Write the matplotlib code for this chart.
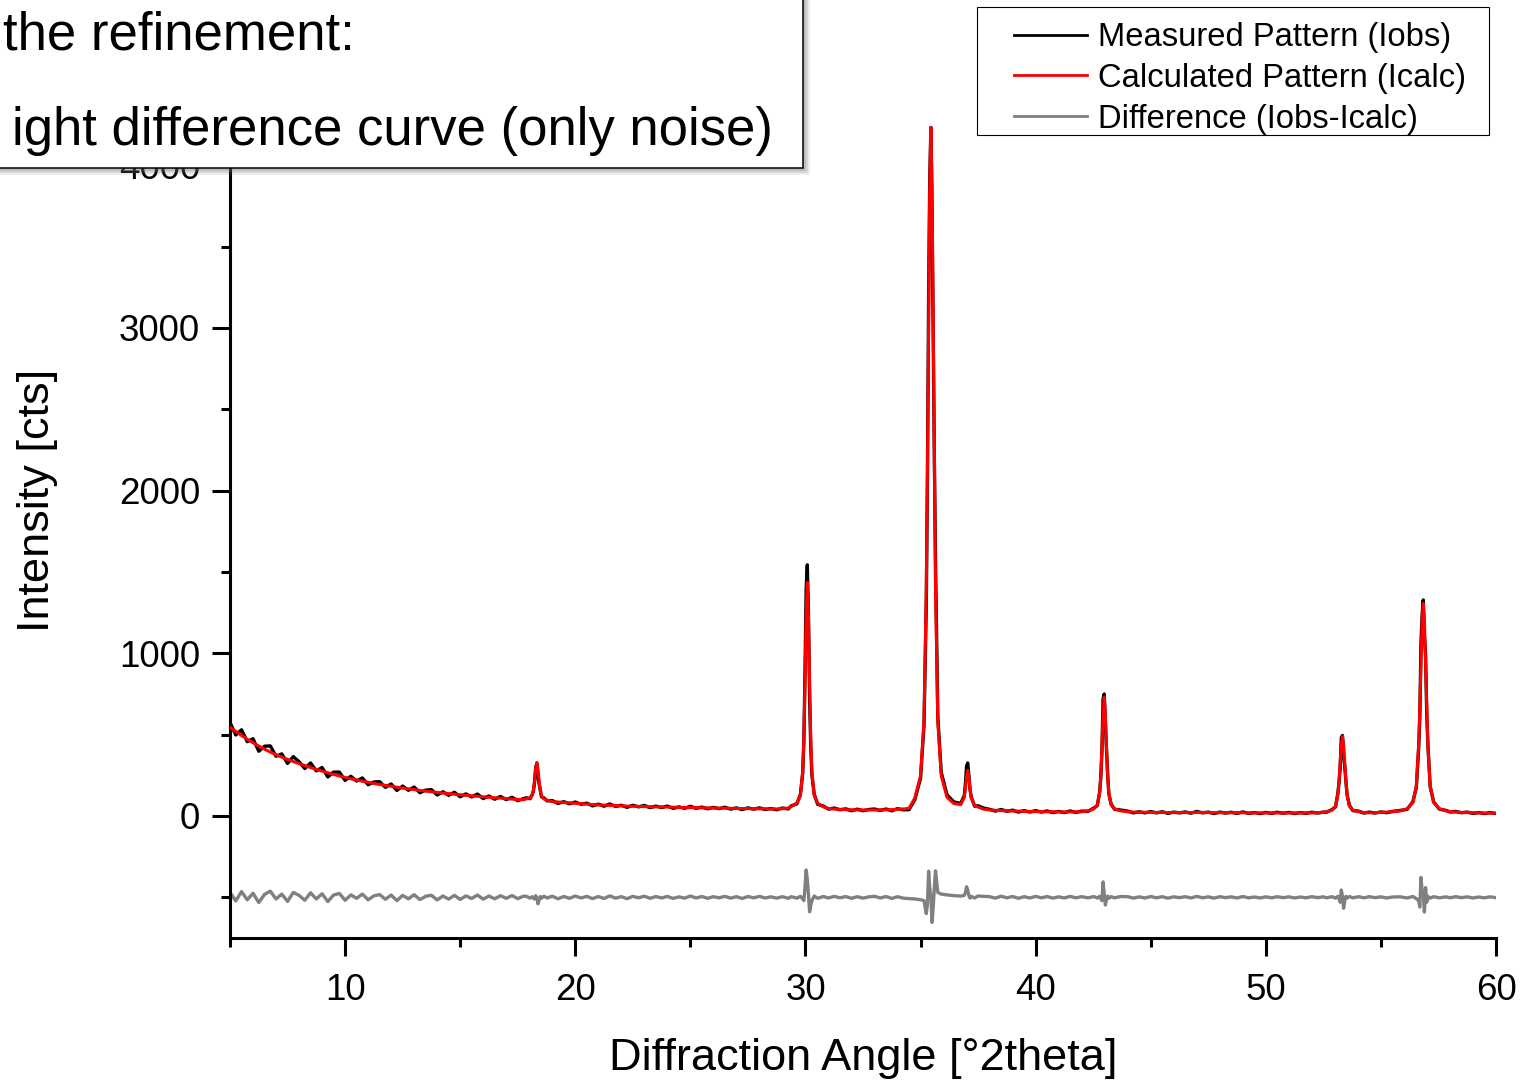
import numpy as np
import matplotlib
matplotlib.use('Agg')
import matplotlib.pyplot as plt
from matplotlib.patches import Rectangle
from matplotlib.lines import Line2D
from matplotlib.ticker import MultipleLocator

plt.rcParams['font.family'] = ['Liberation Sans', 'DejaVu Sans']

# diffraction angle [deg 2theta] (denser around the peaks)
two_theta = [
    5.00, 5.25, 5.50, 5.75, 6.00, 6.25, 6.50, 6.75, 7.00, 7.25,
    7.50, 7.75, 8.00, 8.25, 8.50, 8.75, 9.00, 9.25, 9.50, 9.75,
    10.00, 10.25, 10.50, 10.75, 11.00, 11.25, 11.50, 11.75, 12.00, 12.25,
    12.50, 12.75, 13.00, 13.25, 13.50, 13.75, 14.00, 14.25, 14.50, 14.75,
    15.00, 15.25, 15.50, 15.75, 16.00, 16.25, 16.50, 16.75, 17.00, 17.25,
    17.50, 17.75,
    17.88, 18.03, 18.13, 18.18, 18.23, 18.28, 18.33, 18.38, 18.43, 18.48, 18.53, 18.63, 18.78,
    19.00, 19.25, 19.50, 19.75, 20.00, 20.25, 20.50, 20.75, 21.00, 21.25,
    21.50, 21.75, 22.00, 22.25, 22.50, 22.75, 23.00, 23.25, 23.50, 23.75,
    24.00, 24.25, 24.50, 24.75, 25.00, 25.25, 25.50, 25.75, 26.00, 26.25,
    26.50, 26.75, 27.00, 27.25, 27.50, 27.75, 28.00, 28.25, 28.50, 28.75,
    29.00, 29.25,
    29.38, 29.63, 29.78, 29.88, 29.93, 29.98, 30.03, 30.08, 30.13, 30.18, 30.23, 30.28, 30.38, 30.53, 30.78,
    31.00, 31.25, 31.50, 31.75, 32.00, 32.25, 32.50, 32.75, 33.00, 33.25, 33.50, 33.75, 34.00, 34.25, 34.50,
    34.75, 35.00, 35.15, 35.25, 35.30, 35.35, 35.40, 35.45, 35.50, 35.55, 35.60, 35.65, 35.75, 35.90,
    36.15, 36.45, 36.75, 36.90, 36.95, 37.00, 37.05, 37.10, 37.15, 37.20, 37.35, 37.50,
    37.75, 38.00, 38.25, 38.50, 38.75, 39.00, 39.25, 39.50, 39.75, 40.00, 40.25, 40.50, 40.75, 41.00,
    41.25, 41.50, 41.75, 42.00,
    42.28, 42.53, 42.68, 42.78, 42.83, 42.88, 42.93, 42.98, 43.03, 43.08, 43.13, 43.18, 43.28, 43.43, 43.68,
    44.00, 44.25, 44.50, 44.75, 45.00, 45.25, 45.50, 45.75, 46.00, 46.25,
    46.50, 46.75, 47.00, 47.25, 47.50, 47.75, 48.00, 48.25, 48.50, 48.75,
    49.00, 49.25, 49.50, 49.75, 50.00, 50.25, 50.50, 50.75, 51.00, 51.25,
    51.50, 51.75, 52.00, 52.25, 52.50,
    52.63, 52.88, 53.03, 53.13, 53.18, 53.23, 53.28, 53.33, 53.38, 53.43, 53.48, 53.53, 53.63, 53.78, 54.03,
    54.25, 54.50, 54.75, 55.00, 55.25, 55.50,
    55.84, 56.14, 56.39, 56.54, 56.64, 56.69, 56.74, 56.79, 56.84, 56.89, 56.94, 56.99, 57.04, 57.14,
    57.29, 57.54, 57.84,
    58.00, 58.25, 58.50, 58.75, 59.00, 59.25, 59.50, 59.75, 60.00,
]

# calculated pattern (Icalc) [cts]
i_calc = [
    545, 520, 495, 472, 450, 430, 411, 393, 377, 362,
    348, 335, 322, 310, 298, 287, 276, 266, 256, 246,
    237, 229, 221, 214, 207, 200, 194, 188, 183, 177,
    172, 167, 162, 157, 153, 149, 145, 141, 138, 134,
    131, 127, 124, 121, 118, 115, 112, 110, 107, 104,
    102, 100,
    106, 111, 128, 158, 214, 288, 329, 287, 212, 155, 124, 105, 97,
    88, 86, 83, 81, 78, 76, 73, 70, 68, 67,
    65, 64, 62, 61, 60, 59, 58, 57, 56, 56,
    55, 54, 53, 52, 52, 51, 50, 50, 49, 48,
    48, 47, 46, 46, 45, 45, 44, 44, 43, 43,
    45, 49,
    58, 80, 127, 272, 473, 815, 1225, 1434, 1225, 815, 472, 271, 126, 78, 56,
    46, 43, 41, 39, 38, 38, 37, 37, 37, 38, 38, 39, 41, 43, 47,
    110, 247, 579, 1402, 2133, 3028, 3868, 4233, 3868, 3028, 2133, 1402, 579, 247,
    115, 76, 70, 114, 168, 241, 281, 240, 167, 112, 64, 55,
    42, 37, 35, 33, 32, 31, 30, 29, 28, 27, 27, 26, 26, 25,
    25, 25, 25, 26,
    32, 44, 68, 141, 243, 417, 624, 730, 624, 417, 243, 141, 68, 44, 32,
    26, 24, 23, 23, 22, 22, 22, 21, 21, 21,
    21, 21, 22, 22, 21, 20, 20, 20, 20, 20,
    20, 19, 19, 19, 19, 19, 19, 19, 19, 19,
    19, 19, 19, 20, 21,
    26, 36, 61, 134, 213, 323, 436, 490, 436, 323, 213, 134, 61, 36, 26,
    21, 20, 20, 22, 24, 26,
    31, 45, 83, 185, 438, 662, 937, 1195, 1307, 1195, 937, 662, 438, 185,
    83, 45, 31,
    27, 24, 22, 21, 20, 19, 18, 18, 17,
]

# difference Iobs - Icalc [cts]
i_diff = [
    30, -22, 35, -15, 25, -32, 18, 38, -10, 20,
    -25, 30, 12, -18, 28, -10, 22, -26, 14, 24,
    -18, 15, -6, 20, -15, 9, 17, -12, 14, -20,
    12, -9, 16, -14, 6, 13, -16, 8, -11, 12,
    -13, 9, -7, 14, -11, 8, -9, 10, -6, 11,
    -8, 7,
    6, -5, 4, -6, -10, 10, -5, -40, -15, 5, -6, 7, -4,
    7, -9, 5, -6, 8, -4, 6, -8, 5, -7,
    9, -5, 4, -8, 6, -3, 7, -6, 5, -4,
    6, -7, 3, -5, 8, -4, 5, -6, 4, -3,
    6, -5, 4, -7, 5, -3, 6, -4, 3, -5,
    4, -6,
    4, -5, 6, -10, -20, 60, 168, 110, 20, -89, -50, -20, 8, -6, 5,
    -4, 6, -3, 5, -6, 4, -5, 3, 6, -4, 5, -7, 4, -5, -8,
    -10, -15, -20, -100, -40, 160, 60, 0, -154, -60, 60, 163, 30, 20,
    15, 10, 8, 12, 30, 65, 45, 10, -5, 6, -4, 8,
    6, 4, -5, 7, -3, 5, -6, 4, -4, 6, -3, 5, -5, 3,
    -4, 6, -3, 4,
    -3, 5, -4, 6, -8, -20, 95, 20, -47, -15, 8, -5, 4, -3, 5,
    4, -5, 3, -4, 5, -3, 4, -5, 3, -2,
    4, -4, 6, -3, 3, -5, 4, -2, 3, -4,
    5, -3, 2, -4, 3, -3, 4, -2, 3, -4,
    2, -3, 4, -2, 3,
    -3, 4, -5, 6, -8, -30, 45, 5, -67, -20, 6, -4, 5, -3, 4,
    -3, 4, -2, 3, -4, 2,
    3, -4, 5, -8, -20, -60, 122, 40, 21, -90, 60, -30, 6, -5,
    4, -3, 3,
    -3, 4, -2, 3, -4, 2, -3, 3, -2,
]

diff_offset = -500
labels = ['Measured Pattern (Iobs)', 'Calculated Pattern (Icalc)', 'Difference (Iobs-Icalc)']
colors = ['black', 'red', '#808080']

x = np.array(two_theta)
calc = np.array(i_calc, dtype=float)
diff = np.array(i_diff, dtype=float)
assert len(x) == len(calc) == len(diff)
obs = calc + diff

W, H = 1526, 1080
fig = plt.figure(figsize=(W / 100, H / 100), dpi=100)

# axes: x 5..60 spans px 230..1496, y -750..4900 spans px 938..19
ax = fig.add_axes([230 / W, 1 - 938 / H, 1266 / W, (938 - 18.9) / H])
ax.plot(x, obs, color=colors[0], lw=2.4, zorder=2)
ax.plot(x, calc, color=colors[1], lw=2.2, zorder=3)
ax.plot(x, diff + diff_offset, color=colors[2], lw=2.4, zorder=2)

ax.set_xlim(5, 60)
ax.set_ylim(-750, 4900)
ax.xaxis.set_major_locator(MultipleLocator(10))
ax.xaxis.set_minor_locator(MultipleLocator(5))
ax.yaxis.set_major_locator(MultipleLocator(1000))
ax.yaxis.set_minor_locator(MultipleLocator(500))

for s in ['top', 'right']:
    ax.spines[s].set_visible(False)
for s in ['left', 'bottom']:
    ax.spines[s].set_linewidth(2.2)

ax.tick_params(which='major', direction='out', length=13, width=2.2, labelsize=26.5)
ax.tick_params(which='minor', direction='out', length=6.5, width=2.2)
ax.tick_params(axis='y', which='major', pad=8.6)
ax.tick_params(axis='x', which='major', pad=12.5)

ax.set_xlabel('Diffraction Angle [°2theta]', fontsize=32.5)
ax.set_ylabel('Intensity [cts]', fontsize=32.5)
ax.xaxis.set_label_coords(0.5, -0.1088)
ax.yaxis.set_label_coords(-0.1359, 0.4766)
ax.xaxis.label.set_va('top')

# text box (cut off at the top-left border of the figure)
for k, a in [(7, 0.12), (5, 0.18), (3, 0.25)]:
    fig.add_artist(Rectangle((-20 / W + k / W, 1 - (168 + k) / H), 823 / W, 260 / H,
                             transform=fig.transFigure, facecolor='#707070',
                             edgecolor='none', alpha=a, zorder=1.5))
fig.add_artist(Rectangle((-20 / W, 1 - 168 / H), 823 / W, 260 / H,
                         transform=fig.transFigure, facecolor='white',
                         edgecolor='black', lw=1.1, zorder=2))
fig.text(3 / W, 1 - 50 / H, 'the refinement:', fontsize=38, ha='left', va='baseline', zorder=3)
fig.text(773 / W, 1 - 145 / H, 'ight difference curve (only noise)', fontsize=38,
         ha='right', va='baseline', zorder=3)

# legend
fig.add_artist(Rectangle((977 / W, 1 - 135 / H), 512 / W, 128 / H,
                         transform=fig.transFigure, facecolor='white',
                         edgecolor='black', lw=0.8, zorder=2))
handles = [Line2D([], [], color=c, lw=2.0) for c in colors]
fig.legend(handles, labels, loc='upper left', bbox_to_anchor=(1014 / W, 1 - 22 / H),
           frameon=False, borderpad=0, borderaxespad=0, fontsize=23.6,
           handlelength=2.23, handletextpad=0.34, labelspacing=0.3)

fig.savefig('out.png', dpi=100)
